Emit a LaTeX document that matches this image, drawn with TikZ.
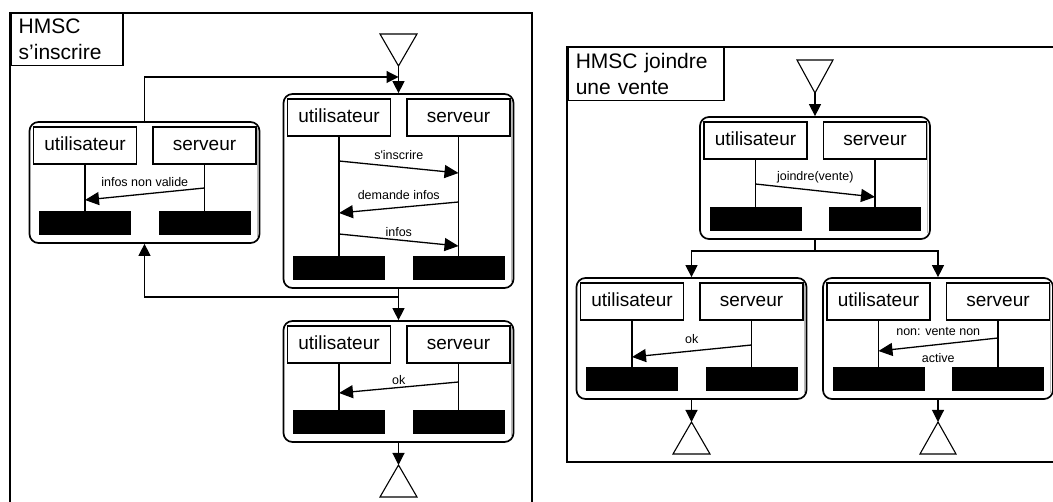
\documentclass[tikz,border=0pt]{standalone}
\usepackage{fontspec}
\setmainfont{Liberation Sans}
\usetikzlibrary{arrows.meta,calc}
\tikzset{
  mscframe/.style={draw, line width=1.5pt},
  titlebox/.style={draw, line width=1.5pt, anchor=north west, align=left, inner xsep=8pt, inner ysep=0pt, font=\fontsize{21}{26}\selectfont},
  mscbox/.style={draw, line width=1.7pt, rounded corners=9pt, minimum width=230pt, inner sep=0pt},
  actor/.style={draw, line width=1.4pt, minimum width=103pt, minimum height=37pt, inner sep=0pt, text height=14pt, text depth=4pt, font=\fontsize{19}{22}\selectfont},
  endbar/.style={fill=black, minimum width=92pt, minimum height=24pt, inner sep=0pt},
  life/.style={line width=1.3pt},
  msg/.style={line width=1.3pt, -{Triangle[length=14pt,width=13pt]}},
  msglabel/.style={font=\fontsize{12.5}{14}\selectfont, inner sep=1pt},
  flow/.style={line width=1.1pt, -{Triangle[length=12pt,width=12pt]}},
  link/.style={line width=1.1pt},
  tri/.style={draw, line width=1.1pt, fill=white},
  shade/.style={draw=gray!55, line width=0.8pt},
}
\newcommand\mscunit[4]{% name, cx, ytop, ybottom
  \node[mscbox, minimum height={#4-#3}] (#1) at (#2,{(#3+#4)/2}) {};
  \draw[shade] ([xshift=-3pt,yshift=-7pt]#1.north east) -- ([xshift=-3pt,yshift=7pt]#1.south east);
  \node[actor] (#1u) at ({#2-59.5},{#3+23.5}) {utilisateur};
  \node[actor] (#1s) at ({#2+60},{#3+23.5}) {serveur};
  \node[endbar] (#1ub) at ({#2-59.5},{#4-20}) {};
  \node[endbar] (#1sb) at ({#2+60},{#4-20}) {};
  \draw[life] (#1u) -- (#1ub);
  \draw[life] (#1s) -- (#1sb);
}
\begin{document}
\begin{tikzpicture}[x=1pt,y=-1pt]
\useasboundingbox (0,0) rectangle (1053,502);

% ---------- left frame : HMSC s'inscrire ----------
\draw[mscframe] (10,530) -- (10,13) -- (532,13) -- (532,530);
\node[titlebox, text width=96pt, minimum height=52pt] (t1) at (10,13) {HMSC\\s’inscrire};

\mscunit{A}{398.5}{94}{288}
\mscunit{B}{144.5}{122}{243}
\mscunit{C}{398.5}{321}{442}

\draw[msg] (Au.south |- 0,161) -- node[msglabel, midway, yshift=12pt] {s\textquotesingle inscrire} (As.south |- 0,173);
\draw[msg] (As.south |- 0,202) -- node[msglabel, midway, yshift=12.5pt] {demande infos} (Au.south |- 0,213);
\draw[msg] (Au.south |- 0,234) -- node[msglabel, midway, yshift=8pt] {infos} (As.south |- 0,246);
\draw[msg] (Bs.south |- 0,188) -- node[msglabel, midway, yshift=12pt] {infos non valide} (Bu.south |- 0,200);
\draw[msg] (Cs.south |- 0,382) -- node[msglabel, midway, yshift=7.5pt] {ok} (Cu.south |- 0,393);

\coordinate (s1) at (398.5,66);
\draw[tri] (380,34) -- (417,34) -- (s1) -- cycle;
\draw[flow] (s1) -- (A.north);
\coordinate (j1) at (398.5,297);
\draw[link] (A.south) -- (j1);
\draw[flow] (j1) -- (C.north);
\draw[flow] (j1) -| (B.south);
\coordinate (j2) at (398.5,77);
\draw[flow] (B.north) |- (j2);
\coordinate (e1) at (398.5,465);
\draw[tri] (e1) -- (417,497) -- (380,497) -- cycle;
\draw[flow] (C.south) -- (e1);

% ---------- right frame : HMSC joindre une vente ----------
\draw[mscframe] (567,47) rectangle (1075,462);
\node[titlebox, text width=140pt, minimum height=53pt] (t2) at (567,47) {HMSC joindre\\une vente};

\mscunit{D}{815}{117}{239}
\mscunit{E}{691.5}{278}{399}
\mscunit{F}{938}{278}{399}

\draw[msg] (Du.south |- 0,184) -- node[msglabel, midway, yshift=13.5pt] {joindre(vente)} (Ds.south |- 0,197);
\draw[msg] (Es.south |- 0,345) -- node[msglabel, midway, yshift=12pt] {ok} (Eu.south |- 0,357);
\draw[msg] (Fs.south |- 0,338) -- node[msglabel, midway, yshift=12.5pt] {non: vente non} node[msglabel, midway, yshift=-13.5pt] {active} (Fu.south |- 0,351);

\coordinate (s2) at (815,93);
\draw[tri] (797,60) -- (833,60) -- (s2) -- cycle;
\draw[flow] (s2) -- (D.north);
\coordinate (j3) at (815,251);
\draw[link] (D.south) -- (j3);
\draw[flow] (j3) -| (E.north);
\draw[flow] (j3) -| (F.north);
\coordinate (e2) at (691.5,422);
\draw[tri] (e2) -- (710,454) -- (673,454) -- cycle;
\draw[flow] (E.south) -- (e2);
\coordinate (e3) at (938,422);
\draw[tri] (e3) -- (956,454) -- (920,454) -- cycle;
\draw[flow] (F.south) -- (e3);
\end{tikzpicture}
\end{document}
